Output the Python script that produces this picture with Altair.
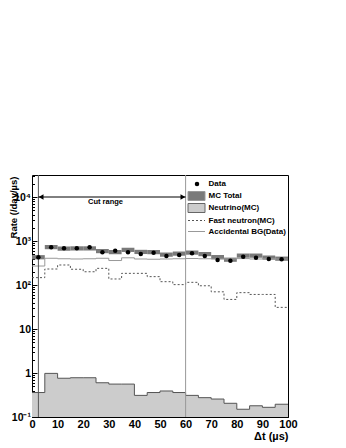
import altair as alt
import pandas as pd

# ---------------- data ----------------
bin_lo = [0, 5, 10, 15, 20, 25, 30, 35, 40, 45, 50, 55, 60, 65, 70, 75, 80, 85, 90, 95]
bin_width = 5
data_rate = [426, 719, 683, 683, 719, 553, 602, 553, 507, 542, 456, 481, 526, 456, 370, 357, 440, 417, 389, 384]
mc_total = [430, 731, 676, 683, 683, 593, 562, 633, 568, 562, 493, 520, 548, 507, 433, 378, 468, 468, 422, 399]
mc_rel_err = 0.11
neutrino = [0.36, 0.98, 0.76, 0.78, 0.78, 0.60, 0.56, 0.56, 0.31, 0.36, 0.39, 0.36, 0.31, 0.275, 0.256, 0.205, 0.15, 0.18, 0.166, 0.195]
fast_neutron = [147, 231, 285, 228, 200, 239, 137, 184, 184, 155, 119, 102, 115, 96, 70, 47, 67, 61, 61, 31]
accidental = [270, 405, 395, 390, 395, 405, 360, 415, 390, 385, 390, 395, 400, 395, 390, 392, 398, 390, 395, 390]

cut_lo, cut_hi = 2.5, 60
arrow_y = 1e4
cut_label = "Cut range"

x_major = [0, 10, 20, 30, 40, 50, 60, 70, 80, 90, 100]
y_major = [0.1, 1, 10, 100, 1000, 10000]
y_labels = ["10⁻¹", "1", "10", "10²", "10³", "10⁴"]

legend_labels = ["Data", "MC Total", "Neutrino(MC)", "Fast neutron(MC)", "Accidental BG(Data)"]

# ---------------- tables ----------------
edges = bin_lo + [bin_lo[-1] + bin_width]
step = pd.DataFrame({
    "x": edges,
    "nu": neutrino + neutrino[-1:],
    "fn": fast_neutron + fast_neutron[-1:],
    "acc": accidental + accidental[-1:],
})
bins = pd.DataFrame({
    "lo": bin_lo,
    "hi": [b + bin_width for b in bin_lo],
    "mid": [b + bin_width / 2 for b in bin_lo],
    "data": data_rate,
    "mc_lo": [m * (1 - mc_rel_err) for m in mc_total],
    "mc_hi": [m * (1 + mc_rel_err) for m in mc_total],
})
cuts = pd.DataFrame({"x": [cut_lo, cut_hi], "c": ["lo", "hi"]})
arrow = pd.DataFrame({"lo": [cut_lo], "hi": [cut_hi], "y": [arrow_y],
                      "mid": [(cut_lo + cut_hi) / 2], "t": [cut_label]})

FONT = "Liberation Sans"
W, H = 256, 242
xs = alt.Scale(domain=[0, 100], nice=False, zero=False)
ys = alt.Scale(type="log", domain=[0.1, 10 ** 4.5], nice=False)

lab = "''"
for v, l in reversed(list(zip(y_major, y_labels))):
    lab = f"datum.value == {v} ? '{l}' : ({lab})"

x_minor = [i * 10 / 6 for i in range(61)]
y_minor = [d * k for d in y_major for k in range(2, 10) if d * k < 10 ** 4.5]

ax_x_labels = alt.Axis(values=x_major, ticks=False, domain=False, grid=False,
                       labelFont=FONT, labelFontWeight="bold", labelFontSize=11,
                       labelColor="black", labelPadding=1, labelOverlap=False,
                       labelFlush=False, format="d",
                       title="Δt (µs)", titleFont=FONT, titleFontWeight="bold",
                       titleFontSize=11, titleColor="black", titleAlign="right",
                       titleAnchor="end", titleX=W, titleY=22, titleBaseline="alphabetic")
ax_y_labels = alt.Axis(values=y_major, ticks=False, domain=False, grid=False,
                       labelFont=FONT, labelFontWeight="bold", labelFontSize=10.5,
                       labelColor="black", labelPadding=1.5, labelOverlap=False,
                       labelFlush=False, labelExpr=lab,
                       title="Rate (/day/µs)", titleFont=FONT, titleFontWeight="bold",
                       titleFontSize=9.5, titleColor="black", titleAngle=270,
                       titleAlign="right", titleBaseline="alphabetic",
                       titleX=-16, titleY=1)
ax_x_major = alt.Axis(orient="bottom", values=x_major, offset=-5, tickSize=5,
                      tickColor="black", labels=False, domain=False, grid=False, title=None)
ax_y_major = alt.Axis(orient="left", values=y_major, offset=-5, tickSize=5,
                      tickColor="black", labels=False, domain=False, grid=False, title=None)
ax_x_minor = alt.Axis(orient="bottom", values=x_minor, offset=-2.5, tickSize=2.5,
                      tickColor="black", labels=False, domain=False, grid=False, title=None)
ax_y_minor = alt.Axis(orient="left", values=y_minor, offset=-2.5, tickSize=2.5,
                      tickColor="black", labels=False, domain=False, grid=False, title=None)

def X(f, axis=None):
    return alt.X(f, type="quantitative", scale=xs, axis=axis)

def Y(f, axis=None):
    return alt.Y(f, type="quantitative", scale=ys, axis=axis)

nu_area = alt.Chart(step).mark_area(interpolate="step-after", color="#cccccc", opacity=1).encode(
    x=X("x", ax_x_labels), y=Y("nu", ax_y_labels), y2=alt.datum(0.1))
nu_line = alt.Chart(step).mark_line(interpolate="step-after", color="#555555", strokeWidth=1).encode(
    x=X("x", ax_x_major), y=Y("nu", ax_y_major))
mc_band = alt.Chart(bins).mark_rect(color="#7a7a7a", opacity=1).encode(
    x=X("lo", ax_x_minor), x2="hi", y=Y("mc_lo", ax_y_minor), y2="mc_hi")
acc_line = alt.Chart(step).mark_line(interpolate="step-after", color="#999999", strokeWidth=1).encode(
    x=X("x"), y=Y("acc"))
fn_line = alt.Chart(step).mark_line(interpolate="step-after", color="#555555", strokeWidth=1,
                                    strokeDash=[2, 2]).encode(x=X("x"), y=Y("fn"))
cut_rules = alt.Chart(cuts).mark_rule(strokeWidth=1).encode(
    x=X("x"),
    color=alt.Color("c:N", scale=alt.Scale(domain=["lo", "hi"], range=["#555555", "#999999"]), legend=None))
arrow_line = alt.Chart(arrow).mark_rule(color="black", strokeWidth=1).encode(
    x=X("lo"), x2="hi", y=Y("y"))
head_l = alt.Chart(arrow).mark_point(shape="triangle-left", filled=True, size=30, color="black",
                                     opacity=1, xOffset=2.7).encode(x=X("lo"), y=Y("y"))
head_r = alt.Chart(arrow).mark_point(shape="triangle-right", filled=True, size=30, color="black",
                                     opacity=1, xOffset=-2.7).encode(x=X("hi"), y=Y("y"))
cut_text = alt.Chart(arrow).mark_text(font=FONT, fontWeight="bold", fontSize=7.5, color="black",
                                      baseline="middle", align="center", dy=5, dx=-6.5).encode(
    x=X("mid"), y=Y("y"), text="t:N")
points = alt.Chart(bins).mark_circle(color="black", size=20, opacity=1).encode(
    x=X("mid"), y=Y("data"))

# ---------------- legend ----------------
one = alt.Data(values=[{}])
leg_y = [9, 21, 33, 45.5, 56.5]
leg_layers = []
leg_layers.append(alt.Chart(one).mark_circle(color="black", size=20, opacity=1).encode(
    x=alt.value(165), y=alt.value(leg_y[0])))
leg_layers.append(alt.Chart(one).mark_rect(fill="#7a7a7a", stroke="#999999", strokeWidth=1).encode(
    x=alt.value(156), x2=alt.value(173), y=alt.value(leg_y[1] - 4.5), y2=alt.value(leg_y[1] + 4.5)))
leg_layers.append(alt.Chart(one).mark_rect(fill="#cccccc", stroke="#666666", strokeWidth=1).encode(
    x=alt.value(156), x2=alt.value(173), y=alt.value(leg_y[2] - 4.5), y2=alt.value(leg_y[2] + 4.5)))
leg_layers.append(alt.Chart(one).mark_rule(color="#555555", strokeDash=[2, 2], strokeWidth=1).encode(
    x=alt.value(156), x2=alt.value(173), y=alt.value(leg_y[3])))
leg_layers.append(alt.Chart(one).mark_rule(color="#999999", strokeWidth=1).encode(
    x=alt.value(156), x2=alt.value(173), y=alt.value(leg_y[4])))
for lbl, yy in zip(legend_labels, leg_y):
    leg_layers.append(alt.Chart(one).mark_text(font=FONT, fontWeight="bold", fontSize=8, color="black",
                                               align="left", baseline="middle").encode(
        x=alt.value(176.5), y=alt.value(yy), text=alt.value(lbl)))

chart = alt.layer(
    nu_area, nu_line, mc_band, acc_line, fn_line, cut_rules, arrow_line, head_l, head_r,
    cut_text, points, *leg_layers
).resolve_axis(x="independent", y="independent").resolve_scale(x="shared", y="shared").properties(
    width=W, height=H,
    padding={"left": 24, "top": 167, "right": 42, "bottom": 31},
    autosize=alt.AutoSizeParams(type="none"),
    background="white",
).configure_view(stroke="black", strokeWidth=1)

chart.save("out.html", embed_options={"renderer": "svg", "actions": False})
